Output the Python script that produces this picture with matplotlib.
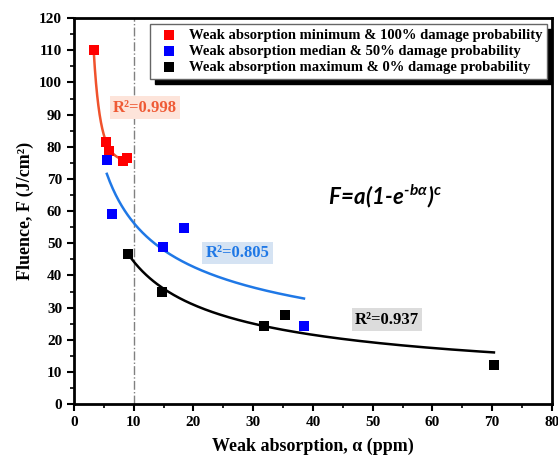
import numpy as np
import matplotlib
matplotlib.use("Agg")
import matplotlib.pyplot as plt
from matplotlib.ticker import MultipleLocator

plt.rcParams['font.family'] = ['Liberation Serif', 'DejaVu Serif']
plt.rcParams['font.weight'] = 'bold'
plt.rcParams['mathtext.fontset'] = 'custom'
plt.rcParams['mathtext.it'] = 'Lato:bold:italic'
plt.rcParams['mathtext.rm'] = 'Lato:bold:italic'
plt.rcParams['mathtext.bf'] = 'Lato:bold:italic'

# Data
red_x = [3.3, 5.4, 5.9, 8.2, 8.8]
red_y = [110.0, 81.6, 78.8, 75.5, 76.6]
blue_x = [5.5, 6.4, 14.9, 18.4, 38.5]
blue_y = [76.0, 59.2, 48.9, 54.8, 24.3]
black_x = [9.0, 14.7, 31.8, 35.3, 70.3]
black_y = [46.8, 34.9, 24.4, 27.8, 12.1]

labels = ["Weak absorption minimum & 100% damage probability",
          "Weak absorption median & 50% damage probability",
          "Weak absorption maximum & 0% damage probability"]
r2_texts = ["R²=0.998", "R²=0.805", "R²=0.937"]


def fit(x, y):
    x = np.asarray(x); y = np.asarray(y)
    bs = np.logspace(-4, 1, 300)
    cs = np.linspace(-4, 0, 400)
    best = None
    for b in bs:
        base = 1 - np.exp(-b * x)
        g = base[None, :] ** cs[:, None]
        a = (g @ y) / np.sum(g * g, axis=1)
        sse = np.sum((a[:, None] * g - y[None, :]) ** 2, axis=1)
        i = np.argmin(sse)
        if best is None or sse[i] < best[0]:
            best = (sse[i], a[i], b, cs[i])
    return best[1:]


fig = plt.figure(figsize=(5.58, 4.65), dpi=100)
ax = fig.add_axes([0.1326, 0.131, 0.8564, 0.830])

series = [(red_x, red_y, '#ff0000', '#f0522c'),
          (blue_x, blue_y, '#0000ff', '#1f78e6'),
          (black_x, black_y, '#000000', '#000000')]

for (x, y, mc, lc), lab in zip(series, labels):
    a, b, c = fit(x, y)
    xx = np.linspace(min(x), max(x), 200)
    ax.plot(xx, a * (1 - np.exp(-b * xx)) ** c, color=lc, lw=1.8, zorder=2)
    ax.scatter(x, y, marker='s', s=42, color=mc, label=lab, zorder=3, linewidths=0)

ax.axvline(10, color='#808080', lw=1.0, ls='-.', zorder=1)

ax.set_xlim(0, 80)
ax.set_ylim(0, 120)
ax.xaxis.set_major_locator(MultipleLocator(10))
ax.xaxis.set_minor_locator(MultipleLocator(5))
ax.yaxis.set_major_locator(MultipleLocator(10))
ax.yaxis.set_minor_locator(MultipleLocator(5))
ax.tick_params(which='major', direction='out', length=5, width=1.5, labelsize=11)
ax.tick_params(which='minor', direction='out', length=3, width=1.2)
for lbl in ax.get_xticklabels() + ax.get_yticklabels():
    lbl.set_fontweight('bold')
for sp in ax.spines.values():
    sp.set_linewidth(2)

ax.set_xlabel("Weak absorption, α (ppm)", fontsize=13, fontweight='bold', labelpad=6)
ax.set_ylabel("Fluence, F (J/cm²)", fontsize=13, fontweight='bold', labelpad=4)

ax.text(11.9, 92.2, r2_texts[0], color='#ef5a35', fontsize=12, fontweight='bold',
        ha='center', va='center', bbox=dict(boxstyle='square,pad=0.2', fc='#fde4da', ec='none'))
ax.text(27.4, 47.0, r2_texts[1], color='#1f78e6', fontsize=12, fontweight='bold',
        ha='center', va='center', bbox=dict(boxstyle='square,pad=0.2', fc='#d5e3f3', ec='none'))
ax.text(52.4, 26.2, r2_texts[2], color='#000000', fontsize=12, fontweight='bold',
        ha='center', va='center', bbox=dict(boxstyle='square,pad=0.2', fc='#dcdcdc', ec='none'))

ax.text(52.0, 64.5, r'$F\!=\!a(1\text{-}e^{\text{-}b\alpha})^{c}$', fontsize=16,
        ha='center', va='center')

leg_kw = dict(loc='upper right', fontsize=10.5, frameon=True, fancybox=False,
              framealpha=1, handletextpad=0.4, borderpad=0.3, labelspacing=0.2,
              handlelength=2.0, scatterpoints=1, borderaxespad=0.0)
anchor = (0.99, 0.984)
w_ax = 0.8564 * 558
h_ax = 0.830 * 465
dx, dy = 5 / w_ax, 5 / h_ax

# black drop shadow: an identical legend box filled black, offset down-right
ghost = ax.legend(bbox_to_anchor=(anchor[0] + dx, anchor[1] - dy),
                  facecolor='black', edgecolor='black', **leg_kw)
for t in ghost.get_texts():
    t.set_color('black')
    t.set_fontweight('bold')
for h in ghost.legend_handles:
    h.set_color('black')
ghost.set_zorder(4.5)
ax.add_artist(ghost)

leg = ax.legend(bbox_to_anchor=anchor, facecolor='white', edgecolor='#666666', **leg_kw)
leg.set_zorder(5)
for t in leg.get_texts():
    t.set_fontweight('bold')

fig.savefig("out.png", dpi=100)
